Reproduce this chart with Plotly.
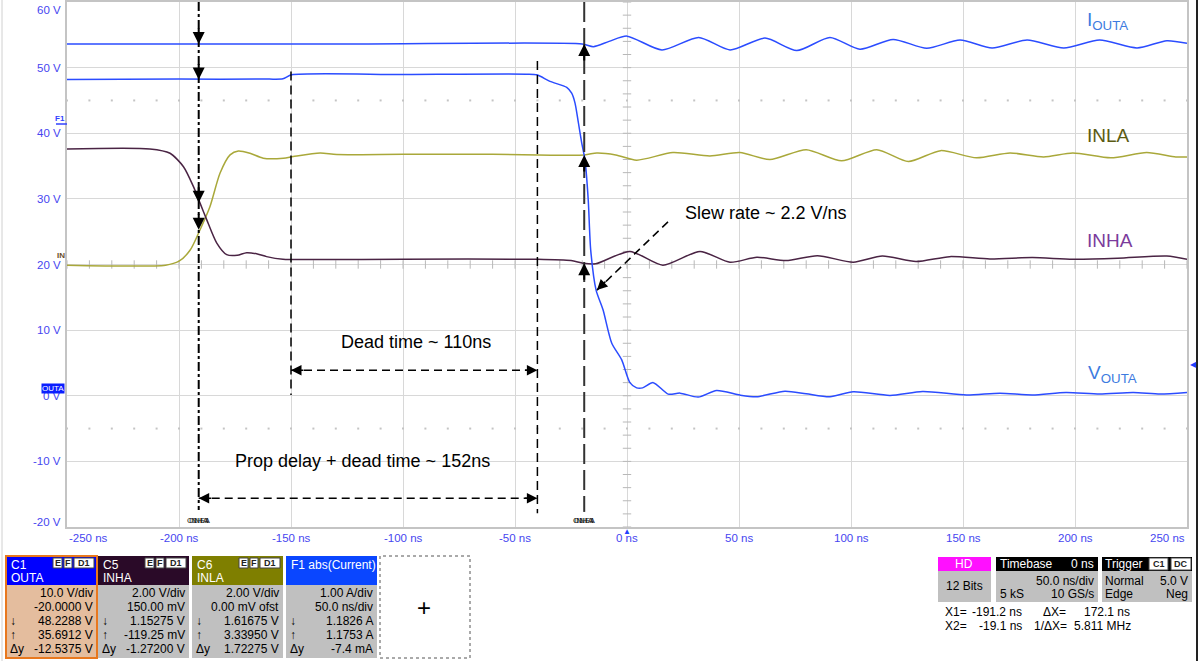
import plotly.graph_objects as go

W, H = 1200, 661
FONT = "Arial, Liberation Sans, sans-serif"

# ---- traces: time in ns, level in screen volts ----
iouta_t = [-250, -120, -20, -15, -8, 0, 15.6, 32, 46, 61.6, 75.8, 90.6, 104, 118.8,
           133.8, 148.7, 163, 178.6, 195, 211, 227.7, 241, 250]
iouta_v = [53.6, 53.6, 53.6, 53.2, 54.0, 54.8, 52.7, 54.6, 52.7, 54.5, 52.6, 54.6, 52.8, 54.3,
           52.95, 54.2, 53.0, 54.2, 53.0, 54.2, 53.0, 54.1, 53.7]

vouta_t = [-250, -200, -160, -153.6, -149.7, -100, -45, -40.2, -34.4, -26.9, -24.7, -23.2,
           -21.7, -20.2, -18.75, -17.3, -16.2, -13.8, -10.7, -6.8, -2.4, 1.3, 4.3, 7,
           11.7, 18.4, 23.7, 31.8, 40, 50.4, 57.9, 70.5, 80, 90.6, 101, 117.4, 132,
           151.6, 166.5, 181, 196, 211, 226, 238, 250]
vouta_v = [48.2, 48.25, 48.25, 48.3, 48.9, 48.95, 49.0, 48.9, 47.9, 47.0, 46.1, 44.6,
           41.6, 38.5, 35.9, 29.8, 22.2, 16.1, 13.1, 8.0, 5.5, 2.0, 1.2, 1.2,
           2.0, 0.25, 0.4, -0.2, 0.8, 0.1, -0.15, 0.7, 0.3, -0.15, 0.6, 0.05, 0.65,
           0.12, 0.4, 0.12, 0.5, 0.25, 0.5, 0.25, 0.5]

inla_t = [-250, -206, -200, -195, -190.6, -186.2, -181.7, -177.2, -173.5, -168.3, -162.4,
          -153.4, -149, -137, -129.6, -100, -60, -19, -13.5, -5, 4.3, 20.5, 37, 50.4,
          63.8, 80, 95.8, 111.5, 125.6, 140, 156, 171, 186, 199, 216, 232, 245, 250]
inla_v = [19.9, 19.9, 20.5, 22.2, 25.3, 28.8, 33.9, 36.7, 37.3, 36.95, 36.2,
          36.2, 36.45, 37.0, 36.75, 36.8, 36.8, 36.7, 37.0, 36.7, 35.9, 37.05, 36.55, 37.05,
          36.0, 37.5, 35.8, 37.5, 35.7, 37.35, 36.25, 37.0, 36.4, 37.0, 36.25, 37.05, 36.4, 36.4]

inha_t = [-250, -213, -204, -198, -193.6, -190.6, -187.6, -183.2, -178.7, -174, -169.8,
          -165, -160.9, -153.6, -140, -100, -40, -25, -19.6, -14, 1.3, 16, 32.6, 46,
          58, 71, 85, 101, 114, 129, 144, 162, 181, 199, 219, 241, 250]
inha_v = [37.6, 37.6, 36.95, 34.9, 31.9, 29.35, 26.8, 23.3, 21.5, 21.4, 21.8,
          21.6, 21.2, 20.8, 20.75, 20.8, 20.8, 20.6, 20.2, 20.1, 22.0, 19.9, 22.0, 20.35,
          21.1, 20.6, 21.35, 20.35, 21.3, 20.45, 21.2, 20.85, 21.05, 20.8, 20.95, 21.3, 20.8]

# cursors and timing markers (ns)
cursor1_t = -191.2
cursor2_t = -19.1
dead_start_t = -150
dead_end_t = -40

x_ticks = [-250, -200, -150, -100, -50, 0, 50, 100, 150, 200, 250]
y_ticks = [60, 50, 40, 30, 20, 10, 0, -10, -20]

# channel descriptor boxes
c1_rows = ["10.0 V/div", "-20.0000 V", "48.2288 V", "35.6912 V", "-12.5375 V"]
c5_rows = ["2.00 V/div", "150.00 mV", "1.15275 V", "-119.25 mV", "-1.27200 V"]
c6_rows = ["2.00 V/div", "0.00 mV ofst", "1.61675 V", "3.33950 V", "1.72275 V"]
f1_rows = ["1.00 A/div", "50.0 ns/div", "1.1826 A", "1.1753 A", "-7.4 mA"]

BLUE = "#2b4cff"
OLIVE = "#a9a83a"
PURPLE = "#4a2444"
AXIS_BLUE = "#4646f0"

fig = go.Figure()

# graticule decorations: minor ticks on centre lines, dotted rows
minor_v = [v * 2 for v in range(-10, 31)]
minor_t = [t * 10 for t in range(-25, 26)]
fig.add_trace(go.Scatter(x=[0] * len(minor_v), y=minor_v, mode="markers",
                         marker=dict(symbol="line-ew", size=6, line=dict(color="#b8b8b8", width=1)),
                         hoverinfo="skip", showlegend=False))
fig.add_trace(go.Scatter(x=minor_t, y=[20] * len(minor_t), mode="markers",
                         marker=dict(symbol="line-ns", size=6, line=dict(color="#b8b8b8", width=1)),
                         hoverinfo="skip", showlegend=False))
for row in (45, -5):
    fig.add_trace(go.Scatter(x=minor_t, y=[row] * len(minor_t), mode="markers",
                             marker=dict(symbol="square", size=2, color="#c4c4c4"),
                             hoverinfo="skip", showlegend=False))

def trace(t, v, color):
    fig.add_trace(go.Scatter(x=t, y=v, mode="lines", line=dict(color=color, width=1.5, shape="spline", smoothing=0.7),
                             hoverinfo="skip", showlegend=False))

trace(inla_t, inla_v, OLIVE)
trace(inha_t, inha_v, PURPLE)
trace(iouta_t, iouta_v, BLUE)
trace(vouta_t, vouta_v, BLUE)

shapes = []
annotations = []

def px(x):
    return x / W

def py(y):
    return 1 - y / H

def rect(x0, y0, x1, y1, fill, line=None, width=0, dash=None):
    shapes.append(dict(type="rect", xref="paper", yref="paper", x0=px(x0), x1=px(x1), y0=py(y1), y1=py(y0),
                       fillcolor=fill, line=dict(color=line or fill, width=width, dash=dash), layer="above"))

def label(x, y, s, size=12, color="black", anchor="left", **kw):
    annotations.append(dict(xref="paper", yref="paper", x=px(x), y=py(y), text=s, showarrow=False,
                            xanchor=anchor, yanchor="middle", font=dict(size=size, color=color, family=FONT), **kw))

def vline(t, v0, v1, dash, width=2, color="black"):
    shapes.append(dict(type="line", xref="x", yref="y", x0=t, x1=t, y0=v0, y1=v1,
                       line=dict(color=color, width=width, dash=dash), layer="above"))

def arrow(t, v, ax, ay, size=1.2, width=2):
    annotations.append(dict(xref="x", yref="y", x=t, y=v, ax=ax, ay=ay, text="", showarrow=True,
                            arrowhead=2, arrowsize=size, arrowwidth=width, arrowcolor="black"))

# tick labels
for v in y_ticks:
    shift = -8 if v == 60 else (5 if v == -20 else 0)
    annotations.append(dict(xref="paper", yref="y", x=px(63), y=v, yshift=shift, text=f"{v} V", showarrow=False,
                            xanchor="right", yanchor="middle", font=dict(size=11.5, color=AXIS_BLUE, family=FONT)))
for t in x_ticks:
    anchor = "left" if t == -250 else ("right" if t == 250 else "center")
    annotations.append(dict(xref="x", yref="paper", x=t, y=py(538), text=f"{t} ns", showarrow=False,
                            xanchor=anchor, yanchor="middle", font=dict(size=11.5, color=AXIS_BLUE, family=FONT)))

# cursors
vline(cursor1_t, 60, -17.4, "dashdot")
vline(cursor2_t, 60, -17.7, "20px,6px", color="#333333")
vline(dead_start_t, 49.4, 0.1, "9px,5px", width=1.5)
vline(dead_end_t, 51, -17.9, "9px,5px", width=1.5)

for v in (53.6, 48.2, 29.4, 25.3):
    arrow(cursor1_t, v, 0, -17)
for v in (53.6, 36.7, 20.2):
    arrow(cursor2_t, v, 0, 18)

# dashed measurement arrows
shapes.append(dict(type="line", xref="x", yref="y", x0=dead_start_t, x1=dead_end_t, y0=3.9, y1=3.9,
                   line=dict(color="black", width=1.5, dash="8px,5px"), layer="above"))
arrow(dead_start_t, 3.9, 14, 0, size=1.4, width=1.5)
arrow(dead_end_t, 3.9, -14, 0, size=1.4, width=1.5)
shapes.append(dict(type="line", xref="x", yref="y", x0=cursor1_t, x1=dead_end_t, y0=-15.6, y1=-15.6,
                   line=dict(color="black", width=1.5, dash="8px,5px"), layer="above"))
arrow(cursor1_t, -15.6, 14, 0, size=1.4, width=1.5)
arrow(dead_end_t, -15.6, -14, 0, size=1.4, width=1.5)
shapes.append(dict(type="line", xref="x", yref="y", x0=18.3, x1=-13.4, y0=26.5, y1=16.1,
                   line=dict(color="black", width=1.5, dash="8px,5px"), layer="above"))
arrow(-13.4, 16.1, 10, -10, size=1.4, width=1.5)

for text, t, v in (("Dead time ~ 110ns", -94, 8.2),
                   ("Prop delay + dead time ~ 152ns", -118, -9.9),
                   ("Slew rate ~ 2.2 V/ns", 62, 27.8)):
    annotations.append(dict(xref="x", yref="y", x=t, y=v, text=text, showarrow=False, yanchor="middle",
                            font=dict(size=18, color="black", family=FONT)))

# trace names
label(1085, 21, "I<sub>OUTA</sub>", size=19, color="#3d7be0")
label(1085, 135, "INLA", size=19, color="#5b5b14")
label(1085, 240, "INHA", size=19, color="#7b3b9c")
label(1086, 374, "V<sub>OUTA</sub>", size=19, color="#3d7be0")

# cursor tags at the bottom of the grid
for t in (cursor1_t, cursor2_t):
    for s, dx in (("C1", -6), ("INHA", 0), ("INLA", 2), ("F1", 6)):
        annotations.append(dict(xref="x", yref="paper", x=t, y=py(520), xshift=dx, text=s, showarrow=False,
                                yanchor="middle", font=dict(size=8, color="#222222", family=FONT)))

# trigger and offset markers
label(627, 531, "▲", size=8, color="#2040ff", anchor="center")
label(1193, 364, "◀", size=8, color="#2040ff", anchor="center")
label(60, 119, "<b>F1</b>", size=8, color="#3040ff", anchor="center")
shapes.append(dict(type="line", xref="paper", yref="paper", x0=px(56), x1=px(67), y0=py(124), y1=py(124),
                   line=dict(color="#3040ff", width=1.5)))
label(61, 255, "<b>IN</b>", size=8, color="#6b4d2a", anchor="center")
label(53, 388, "OUTA", size=8, color="white", anchor="center", bgcolor="#0a1eff", borderpad=0)

# frame lines at the edges of the screenshot
shapes.append(dict(type="line", xref="paper", yref="paper", x0=px(1197), x1=px(1197), y0=0, y1=1,
                   line=dict(color="#222222", width=2)))
shapes.append(dict(type="line", xref="paper", yref="paper", x0=px(2), x1=px(2), y0=0, y1=1,
                   line=dict(color="#d0d0d0", width=1)))

# channel descriptor boxes
boxes = [("C1", "OUTA", c1_rows, 6, "#0000ff", "#e4bd9e", True),
         ("C5", "INHA", c5_rows, 98, "#2a0a28", "#c0c0c0", True),
         ("C6", "INLA", c6_rows, 192, "#7f7f00", "#c0c0c0", True),
         ("F1 abs(Current)", "", f1_rows, 286, "#0a46ff", "#c0c0c0", False)]
for name, sub, rows, x0, head, body, badges in boxes:
    x1 = x0 + 91
    rect(x0, 585, x1, 658, body)
    rect(x0, 556, x1, 585, head)
    label(x0 + 3, 565, name, size=12, color="white")
    if sub:
        label(x0 + 3, 578, sub, size=12, color="white")
    if badges:
        for s, a, b in (("E", -44, -35), ("F", -33, -25), ("D1", -23, -3)):
            rect(x1 + a, 558, x1 + b, 568, "white", line="#444444", width=1)
            label((2 * x1 + a + b) / 2, 563, f"<b>{s}</b>", size=9, color="#222222", anchor="center")
    for i, s in enumerate(rows):
        label(x1 - 2, 593 + i * 14, s, size=12, anchor="right")
    label(x0 + 2, 621, "↓", size=12)
    label(x0 + 2, 635, "↑", size=12)
    label(x0 + 2, 649, "Δy", size=12)
rect(6, 556, 97, 658, "rgba(0,0,0,0)", line="#e8781e", width=2)
rect(380, 556, 470, 658, "white", line="#555555", width=1, dash="dot")
label(424, 607, "+", size=24, anchor="center")

# acquisition status boxes
rect(938, 557, 991, 571, "#ff10ff")
rect(938, 571, 991, 602, "#c0c0c0")
label(964, 564, "HD", size=12, color="white", anchor="center")
label(964, 586, "12 Bits", size=12, anchor="center")

rect(996, 557, 1098, 571, "#000000")
rect(996, 571, 1098, 602, "#c0c0c0")
label(998, 564, "Timebase", size=12, color="white")
label(1096, 564, "0 ns", size=12, color="white", anchor="right")
label(1096, 581, "50.0 ns/div", size=12, anchor="right")
label(998, 594, "5 kS", size=12)
label(1096, 594, "10 GS/s", size=12, anchor="right")

rect(1102, 557, 1192, 571, "#000000")
rect(1102, 571, 1192, 602, "#c0c0c0")
label(1103, 564, "Trigger", size=12, color="white")
for s, a, b in (("C1", 1149, 1168), ("DC", 1171, 1191)):
    rect(a, 558, b, 570, "white", line="#444444", width=1)
    label((a + b) / 2, 564, f"<b>{s}</b>", size=9, color="#222222", anchor="center")
label(1103, 581, "Normal", size=12)
label(1190, 581, "5.0 V", size=12, anchor="right")
label(1103, 594, "Edge", size=12)
label(1190, 594, "Neg", size=12, anchor="right")

label(943, 612, "X1=", size=12)
label(1024, 612, "-191.2 ns", size=12, anchor="right")
label(1041, 612, "ΔX=", size=12)
label(1132, 612, "172.1 ns", size=12, anchor="right")
label(943, 626, "X2=", size=12)
label(1024, 626, "-19.1 ns", size=12, anchor="right")
label(1032, 626, "1/ΔX=", size=12)
label(1133, 626, "5.811 MHz", size=12, anchor="right")

fig.update_layout(
    width=W, height=H,
    margin=dict(l=0, r=0, t=0, b=0),
    paper_bgcolor="white", plot_bgcolor="white",
    xaxis=dict(domain=[px(67), px(1187)], range=[-250, 250], dtick=50, tick0=0,
               showgrid=True, gridcolor="#d8d8d8", gridwidth=1, zeroline=False,
               showline=True, mirror=True, linecolor="#c4c4c4", linewidth=1.5,
               showticklabels=False, ticks=""),
    yaxis=dict(domain=[py(527), py(2)], range=[-20, 60], dtick=10, tick0=0,
               showgrid=True, gridcolor="#d8d8d8", gridwidth=1, zeroline=False,
               showline=True, mirror=True, linecolor="#c4c4c4", linewidth=1.5,
               showticklabels=False, ticks=""),
    shapes=shapes,
    annotations=annotations,
    font=dict(family=FONT),
)

# the page body has a default margin; drop it so the figure fills the window
fig.write_html("out.html", config={"displayModeBar": False},
               post_script="document.body.style.margin='0';document.body.style.overflow='hidden';")
